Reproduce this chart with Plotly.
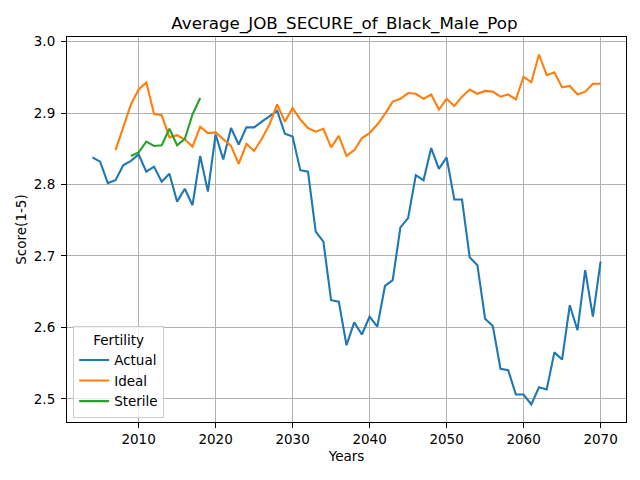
import plotly.graph_objects as go

# Years per series
actual_years = list(range(2004, 2071))
ideal_years = list(range(2007, 2071))
sterile_years = list(range(2009, 2019))

# Average JOB_SECURE score
actual = [2.838, 2.832, 2.802, 2.806, 2.827, 2.833, 2.842, 2.818, 2.825, 2.804,
          2.815, 2.776, 2.794, 2.771, 2.840, 2.790, 2.870, 2.835, 2.879, 2.856,
          2.880, 2.880, 2.888, 2.896, 2.903, 2.871, 2.867, 2.820, 2.818, 2.734,
          2.720, 2.638, 2.636, 2.575, 2.607, 2.590, 2.615, 2.601, 2.658, 2.666,
          2.740, 2.753, 2.813, 2.806, 2.851, 2.822, 2.838, 2.779, 2.779, 2.698,
          2.687, 2.612, 2.602, 2.542, 2.540, 2.506, 2.506, 2.492, 2.516, 2.513,
          2.565, 2.555, 2.631, 2.596, 2.680, 2.615, 2.692]
ideal = [2.848, 2.881, 2.912, 2.933, 2.943, 2.899, 2.897, 2.866, 2.869, 2.863,
         2.853, 2.881, 2.872, 2.873, 2.864, 2.854, 2.829, 2.857, 2.847, 2.864,
         2.884, 2.912, 2.888, 2.907, 2.891, 2.879, 2.874, 2.878, 2.852, 2.868,
         2.840, 2.848, 2.865, 2.872, 2.884, 2.899, 2.916, 2.920, 2.928, 2.927,
         2.920, 2.926, 2.905, 2.920, 2.910, 2.923, 2.933, 2.927, 2.931, 2.930,
         2.923, 2.926, 2.919, 2.951, 2.943, 2.982, 2.953, 2.957, 2.936, 2.938,
         2.926, 2.930, 2.941, 2.941]
sterile = [2.840, 2.845, 2.860, 2.854, 2.855, 2.878, 2.855, 2.864, 2.898, 2.921]

x_ticks = [2010, 2020, 2030, 2040, 2050, 2060, 2070]
y_ticks = [2.5, 2.6, 2.7, 2.8, 2.9, 3.0]

font = 'DejaVu Sans'

fig = go.Figure()
for name, xs, ys, color in [('Actual', actual_years, actual, '#1f77b4'),
                            ('Ideal', ideal_years, ideal, '#ff7f0e'),
                            ('Sterile', sterile_years, sterile, '#2ca02c')]:
    fig.add_trace(go.Scatter(x=xs, y=ys, mode='lines', name=name,
                             line=dict(color=color, width=2.1)))

axis_style = dict(showline=True, linecolor='black', linewidth=1.1, mirror=True,
                  ticks='outside', ticklen=5, tickwidth=1.1, tickcolor='black',
                  showgrid=True, gridcolor='#b0b0b0', gridwidth=1.1,
                  zeroline=False, tickfont=dict(family=font, size=13.5, color='black'))

# page body adds an 8px offset, so the figure is a bit smaller than the window
fig.update_layout(
    width=632, height=472,
    paper_bgcolor='white', plot_bgcolor='white',
    margin=dict(l=59, r=14, t=29, b=58),
    font=dict(family=font, size=13.5, color='black'),
    title=dict(text='Average_JOB_SECURE_of_Black_Male_Pop', x=0.5324, xanchor='center',
               y=1 - 15 / 472, yanchor='middle', font=dict(family=font, size=16.7)),
    legend=dict(title=dict(text='Fertility', side='top center',
                           font=dict(family=font, size=13.5)),
                x=0.011, y=0.01, xanchor='left', yanchor='bottom',
                bgcolor='rgba(255,255,255,0.8)', bordercolor='#cccccc', borderwidth=1,
                font=dict(family=font, size=13.5)),
)
fig.update_xaxes(range=[2000.7, 2073.3], tickvals=x_ticks,
                 title=dict(text='Years', standoff=5, font=dict(family=font, size=13.5)),
                 **axis_style)
fig.update_yaxes(range=[2.4675, 3.0065], tickvals=y_ticks, tickformat='.1f',
                 ticklabelstandoff=3,
                 title=dict(text='Score(1-5)', standoff=4, font=dict(family=font, size=13.5)),
                 **axis_style)

fig.write_html("out.html")
